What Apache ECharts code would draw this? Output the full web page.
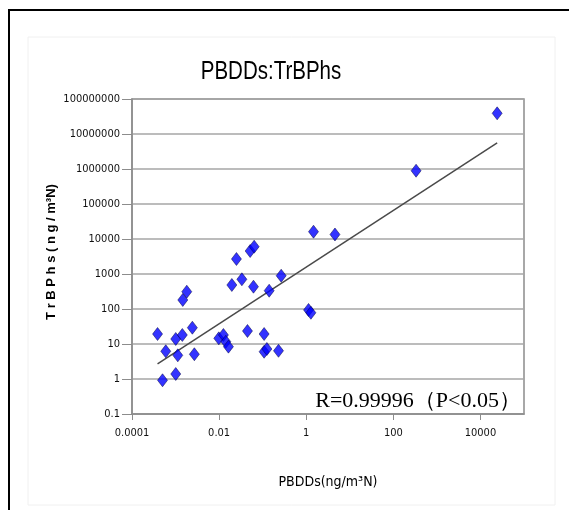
<!DOCTYPE html>
<html>
<head>
<meta charset="utf-8">
<title>PBDDs:TrBPhs</title>
<script src="https://cdn.jsdelivr.net/npm/echarts@6/dist/echarts.min.js"></script>
<style>
  html, body { margin: 0; padding: 0; background: #fff; }
  #chart { width: 569px; height: 510px; }
</style>
</head>
<body>
<div id="chart"></div>
<script>
// PBDDs (x) vs TrBPhs (y), ng/m3N
const pbdds = [
  0.000386, 0.000596, 0.000502, 0.00101, 0.00101, 0.001125, 0.00143, 0.00243,
  0.0027, 0.001466, 0.00181, 0.00984, 0.01255, 0.01426, 0.01637, 0.0196,
  0.025, 0.0333, 0.0448, 0.0516, 0.0638, 0.0615, 0.108, 0.108,
  0.125, 0.231, 0.141, 0.266, 1.13, 1.28, 1.47, 4.57,
  333, 24200
];
const trbphs = [
  19.3, 6.2, 0.92, 1.39, 13.9, 4.75, 18.1, 29.2,
  5.1, 181, 312, 14.5, 18.1, 11.6, 8.4, 485,
  2680, 706, 23.5, 4540, 6030, 434, 19.3, 6.0,
  7.2, 6.4, 333, 894, 94, 78, 16170, 13450,
  894000, 39000000
];

// power trendline y = 10^b * x^a
const trendSlope = 0.81;
const trendIntercept = 3.199;

const chartTitle = 'PBDDs:TrBPhs';
const xName = 'PBDDs(ng/m³N)';
const yName = 'T r B P h s ( n g / m³N)';
const noteText = 'R=0.99996（P<0.05）';

const points = pbdds.map((x, i) => [x, trbphs[i]]);
const xMin = Math.min(...pbdds);
const xMax = Math.max(...pbdds);
const trend = (x) => Math.pow(10, trendIntercept + trendSlope * Math.log10(x));
const trendLine = [[xMin, trend(xMin)], [xMax, trend(xMax)]];

// plain decimal labels, no scientific notation
const fmtLog = (v) => {
  const e = Math.round(Math.log10(v));
  return e < 0 ? (Math.pow(10, e)).toFixed(-e) : String(Math.round(Math.pow(10, e)));
};

const narrow = "'DejaVu Sans Condensed', 'Liberation Sans Narrow', 'Arial Narrow', sans-serif";

const chart = echarts.init(document.getElementById('chart'));
chart.setOption({
  animation: false,
  backgroundColor: '#fff',
  grid: {
    left: 132, right: 45, top: 99, bottom: 96,
    show: true, borderColor: '#8c8c8c', borderWidth: 1.5, backgroundColor: '#fff'
  },
  xAxis: {
    type: 'log',
    logBase: 10,
    min: 0.0001,
    max: 100000,
    interval: 2,
    name: xName,
    nameLocation: 'middle',
    nameGap: 61,
    nameTextStyle: { fontFamily: narrow, fontSize: 14, color: '#000' },
    axisLine: { show: true, lineStyle: { color: '#8c8c8c', width: 1.5 } },
    axisTick: { show: true, length: 6, lineStyle: { color: '#8c8c8c' } },
    axisLabel: { formatter: fmtLog, showMaxLabel: false, fontFamily: narrow, fontSize: 11, color: '#111', margin: 14 },
    splitLine: { show: false }
  },
  yAxis: {
    type: 'log',
    logBase: 10,
    min: 0.1,
    max: 100000000,
    interval: 1,
    axisLine: { show: true, lineStyle: { color: '#8c8c8c', width: 1.5 } },
    axisTick: { show: true, length: 10, lineStyle: { color: '#8c8c8c' } },
    axisLabel: { formatter: fmtLog, fontFamily: narrow, fontSize: 11, color: '#111', margin: 12 },
    splitLine: { show: true, lineStyle: { color: '#a6a6a6', width: 1.5 } }
  },
  series: [
    {
      type: 'line',
      data: trendLine,
      showSymbol: false,
      symbol: 'none',
      lineStyle: { color: '#4a4a4a', width: 1.5 },
      z: 2
    },
    {
      type: 'scatter',
      data: points,
      symbol: 'diamond',
      symbolSize: [10, 13],
      itemStyle: { color: '#0000ff', borderColor: '#00003a', borderWidth: 0.6 },
      z: 3
    }
  ],
  graphic: [
    {
      type: 'rect',
      shape: { x: 9, y: 10, width: 620, height: 560 },
      style: { fill: 'none', stroke: '#000', lineWidth: 2 },
      silent: true
    },
    {
      type: 'rect',
      shape: { x: 28, y: 37, width: 527, height: 468 },
      style: { fill: 'none', stroke: '#f0f0f0', lineWidth: 1 },
      silent: true
    },
    {
      type: 'text',
      x: 271,
      y: 72,
      scaleX: 0.82,
      style: {
        text: chartTitle,
        fontFamily: "'Liberation Sans', sans-serif",
        fontSize: 25,
        fill: '#000',
        textAlign: 'center',
        textVerticalAlign: 'middle'
      }
    },
    {
      // y axis title, rotated
      type: 'text',
      x: 51,
      y: 252,
      rotation: Math.PI / 2,
      style: {
        text: yName,
        fontFamily: "'Liberation Sans', sans-serif",
        fontSize: 13,
        fontWeight: 'bold',
        fill: '#000',
        textAlign: 'center',
        textVerticalAlign: 'middle'
      }
    },
    {
      type: 'text',
      x: 521,
      y: 401,
      style: {
        text: noteText,
        fontFamily: "'Liberation Serif', 'Times New Roman', serif",
        fontSize: 22,
        fill: '#000',
        textAlign: 'right',
        textVerticalAlign: 'middle'
      },
      z: 10
    }
  ]
});
</script>
</body>
</html>
